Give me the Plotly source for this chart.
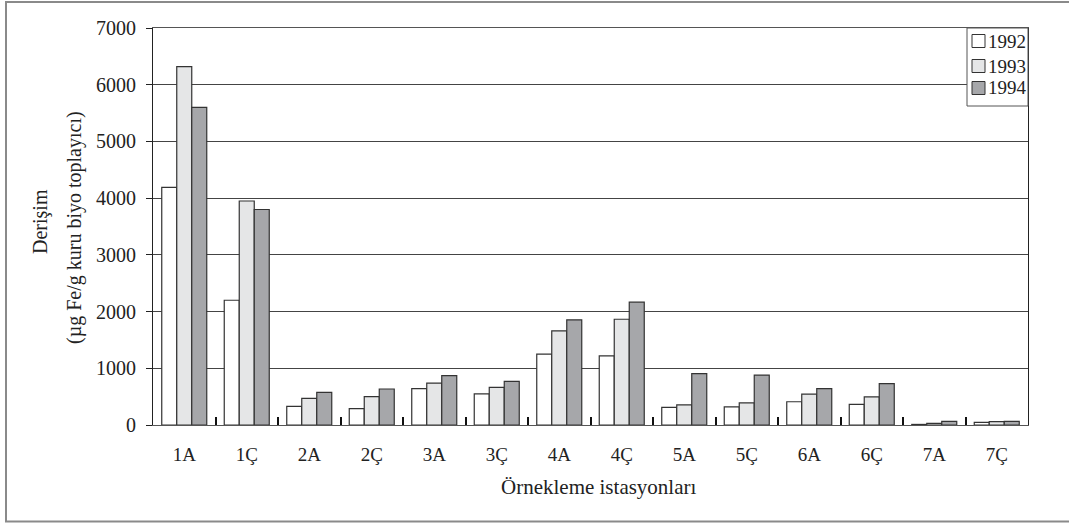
import plotly.graph_objects as go

stations = ["1A", "1Ç", "2A", "2Ç", "3A", "3Ç", "4A", "4Ç", "5A", "5Ç", "6A", "6Ç", "7A", "7Ç"]
years = ["1992", "1993", "1994"]
v1992 = [4190, 2200, 330, 290, 640, 550, 1250, 1220, 310, 320, 410, 365, 10, 45]
v1993 = [6320, 3950, 470, 500, 740, 665, 1660, 1865, 355, 390, 545, 495, 30, 60]
v1994 = [5600, 3800, 575, 635, 870, 770, 1855, 2165, 905, 880, 640, 730, 65, 65]
series = [v1992, v1993, v1994]
colors = ["#ffffff", "#e5e6e7", "#a6a7aa"]

FONT = "Liberation Serif, Times New Roman, serif"
W, H = 1069, 524
L, R, T, B = 153, 41, 28, 99
PW, PH = W - L - R, H - T - B


def px(x):
    return (x - L) / PW


def py(y):
    return (H - B - y) / PH


fig = go.Figure()
for name, vals, col in zip(years, series, colors):
    fig.add_trace(go.Bar(
        x=stations, y=vals, name=name,
        marker=dict(color=col, line=dict(color="#333333", width=1.2)),
        showlegend=False,
    ))

shapes = []
annotations = []
# outer frame
shapes.append(dict(type="rect", xref="paper", yref="paper",
                   x0=px(6), x1=px(1080), y0=py(521.5), y1=py(2),
                   line=dict(color="#8a8a8a", width=2), fillcolor="rgba(0,0,0,0)", layer="above"))
# legend box
shapes.append(dict(type="rect", xref="paper", yref="paper",
                   x0=px(967), x1=px(1028), y0=py(106), y1=py(28),
                   line=dict(color="#555555", width=1), fillcolor="#ffffff", layer="above"))
leg_y = [41, 66, 88]
for name, col, yc in zip(years, colors, leg_y):
    shapes.append(dict(type="rect", xref="paper", yref="paper",
                       x0=px(972), x1=px(985), y0=py(yc + 6.5), y1=py(yc - 6.5),
                       line=dict(color="#333333", width=1), fillcolor=col, layer="above"))
    annotations.append(dict(text=name, xref="paper", yref="paper", x=px(986), y=py(yc),
                            xanchor="left", yanchor="middle", showarrow=False,
                            font=dict(family=FONT, size=19, color="#222222")))

# axis titles
annotations.append(dict(text="Örnekleme istasyonları", xref="paper", yref="paper",
                        x=px(599), y=py(487), xanchor="center", yanchor="middle", showarrow=False,
                        font=dict(family=FONT, size=21, color="#222222")))
annotations.append(dict(text="Derişim", xref="paper", yref="paper", textangle=-90,
                        x=px(40), y=py(222), xanchor="center", yanchor="middle", showarrow=False,
                        font=dict(family=FONT, size=20, color="#222222")))
annotations.append(dict(text="(µg Fe/g kuru biyo toplayıcı)", xref="paper", yref="paper", textangle=-90,
                        x=px(74), y=py(228), xanchor="center", yanchor="middle", showarrow=False,
                        font=dict(family=FONT, size=20, color="#222222")))

fig.update_layout(
    width=W, height=H,
    margin=dict(l=L, r=R, t=T, b=B),
    paper_bgcolor="#ffffff", plot_bgcolor="#ffffff",
    barmode="group", bargap=0.28, bargroupgap=0,
    shapes=shapes, annotations=annotations,
    font=dict(family=FONT, color="#222222"),
)
fig.update_xaxes(
    type="category", showline=True, linecolor="#555555", linewidth=1, mirror=True,
    ticks="inside", tickson="boundaries", ticklen=8, tickwidth=2, tickcolor="#111111",
    showgrid=False, tickfont=dict(family=FONT, size=19, color="#222222"),
    ticklabelstandoff=12,
)
fig.update_yaxes(
    range=[0, 7000], dtick=1000, showline=True, linecolor="#222222", linewidth=1, mirror=True,
    ticks="outside", ticklen=6, tickwidth=1, tickcolor="#222222",
    showgrid=True, gridcolor="#444444", gridwidth=1, zeroline=False,
    tickfont=dict(family=FONT, size=20, color="#222222"), ticklabelstandoff=6,
)

fig.write_html("out.html", config={"displayModeBar": False},
               post_script="document.body.style.margin='0px';document.body.style.overflow='hidden';")
